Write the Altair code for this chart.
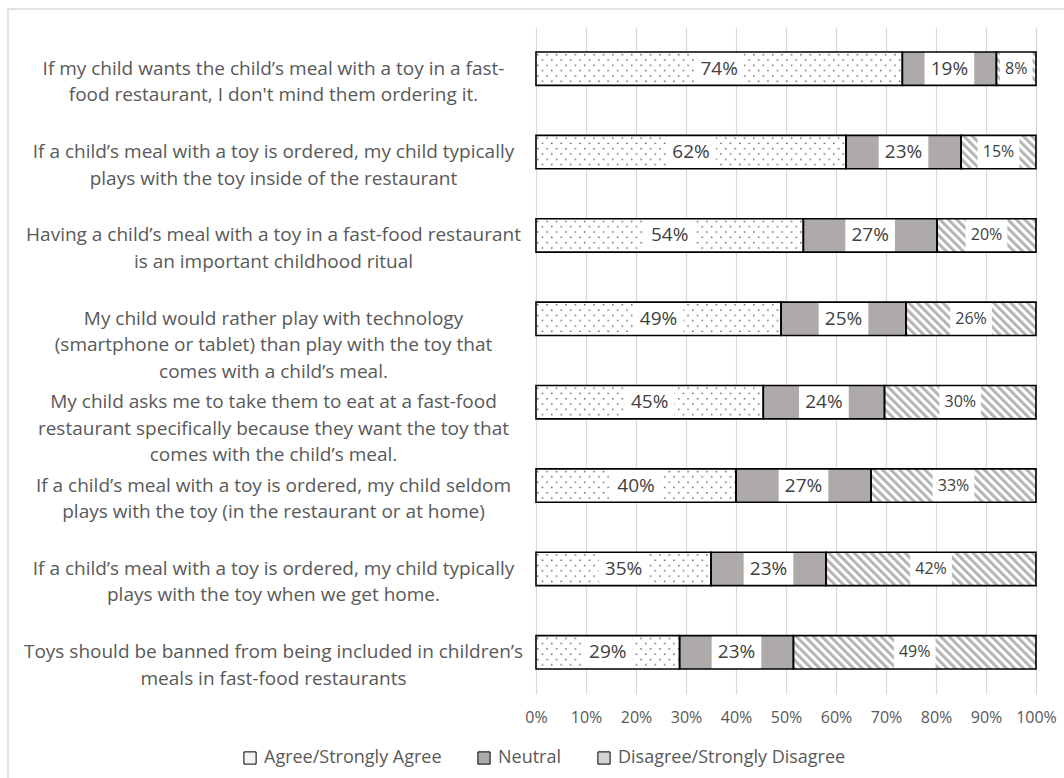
import urllib.parse

import altair as alt
import pandas as pd

# Survey statements (one bar each), top to bottom
items = [
    "If my child wants the child\u2019s meal with a toy in a fast-\nfood restaurant, I don't mind them ordering it.",
    "If a child\u2019s meal with a toy is ordered, my child typically\nplays with the toy inside of the restaurant",
    "Having a child\u2019s meal with a toy in a fast-food restaurant\nis an important childhood ritual",
    "My child would rather play with technology\n(smartphone or tablet) than play with the toy that\ncomes with a child\u2019s meal.",
    "My child asks me to take them to eat at a fast-food\nrestaurant specifically because they want the toy that\ncomes with the child\u2019s meal.",
    "If a child\u2019s meal with a toy is ordered, my child seldom\nplays with the toy (in the restaurant or at home)",
    "If a child\u2019s meal with a toy is ordered, my child typically\nplays with the toy when we get home.",
    "Toys should be banned from being included in children\u2019s\nmeals in fast-food restaurants",
]

# Response shares (%)
agree = [74, 62, 54, 49, 45, 40, 35, 29]
neutral = [19, 23, 27, 25, 24, 27, 23, 23]
disagree = [8, 15, 20, 26, 30, 33, 42, 49]

groups = ["Agree/Strongly Agree", "Neutral", "Disagree/Strongly Disagree"]
tick_values = list(range(0, 101, 10))

FONT = "Open Sans"
W, H = 500, 667
TEXT_GREY = "#595959"


def svg_fill(body):
    svg = ('<svg xmlns="http://www.w3.org/2000/svg" width="100%" height="100%">'
           + body + "</svg>")
    return "data:image/svg+xml;charset=utf-8," + urllib.parse.quote(svg)


# Tiled textures: sparse dots and light "\" hatching on white
DOTS = svg_fill(
    '<defs><pattern id="d" width="9.4" height="10.6" patternUnits="userSpaceOnUse">'
    '<rect x="1" y="2" width="1.4" height="1.4" fill="#555555"/>'
    '<rect x="5.7" y="7.3" width="1.4" height="1.4" fill="#555555"/>'
    "</pattern></defs>"
    '<rect width="100%" height="100%" fill="#ffffff"/>'
    '<rect width="100%" height="100%" fill="url(#d)"/>'
)
HATCH = svg_fill(
    '<defs><pattern id="h" width="6" height="6" patternUnits="userSpaceOnUse" '
    'patternTransform="rotate(-45)"><rect width="3" height="6" fill="#b4b4b4"/>'
    "</pattern></defs>"
    '<rect width="100%" height="100%" fill="#ffffff"/>'
    '<rect width="100%" height="100%" fill="url(#h)"/>'
)
textures = {groups[0]: DOTS, groups[1]: "", groups[2]: HATCH}

rows = []
for i, item in enumerate(items):
    vals = [agree[i], neutral[i], disagree[i]]
    total = sum(vals)
    cum = 0
    for g, v in zip(groups, vals):
        start = cum / total * 100
        cum += v
        end = cum / total * 100
        mid = (start + end) / 2
        fs = 16 if g == groups[2] else 19
        pad = 10 if g == groups[2] else 12
        box_px = fs * (0.572 * len(str(v)) + 0.84) + pad
        half = box_px / 2 * 100 / W
        rows.append(dict(
            item=item, group=g, value=v, label=f"{v}%",
            start=start, end=end, mid=mid,
            lo=max(start + 0.3, mid - half), hi=min(end - 0.3, mid + half),
            fs=fs, texture=textures[g],
        ))
df = pd.DataFrame(rows)

x_scale = alt.Scale(domain=[0, 100], nice=False, zero=True)
x_axis = alt.Axis(
    values=tick_values, labelExpr="datum.value + '%'", domain=False, ticks=False,
    tickSize=0, grid=True, gridColor="#d9d9d9", gridWidth=1.2, labelFont=FONT,
    labelFontSize=16, labelColor=TEXT_GREY, labelPadding=15, labelFlush=False,
    labelOverlap=False,
)
y_axis = alt.Axis(
    domain=False, ticks=False, tickSize=0, grid=False, labelAlign="center",
    labelBaseline="middle", labelPadding=263, labelLimit=1000, labelFont=FONT,
    labelFontSize=19, labelColor=TEXT_GREY, labelLineHeight=26.5,
    labelExpr="split(datum.label, '\\n')",
)
y_scale = alt.Scale(paddingInner=0.6, paddingOuter=0.3)


def xq(field):
    return alt.X(f"{field}:Q", scale=x_scale, axis=x_axis, title=None)


def yb():
    return alt.Y("item:N", sort=items, scale=y_scale, axis=y_axis, title=None)


base = alt.Chart(df)

fills = base.mark_bar().encode(
    x=xq("start"), x2="end", y=yb(),
    color=alt.Color(
        "group:N",
        scale=alt.Scale(domain=groups, range=["#f3f3f3", "#aeaaaa", "#d3d3d3"]),
        legend=alt.Legend(
            title=None, orient="none", legendX=-295, legendY=722,
            direction="horizontal", symbolType="square", symbolSize=150,
            symbolStrokeColor="#000000", symbolStrokeWidth=1, labelFont=FONT,
            labelFontSize=18, labelColor=TEXT_GREY, labelLimit=400,
            columnPadding=33, labelOffset=5,
        ),
    ),
)

patterns = base.transform_filter("datum.texture != ''").mark_image(aspect=False).encode(
    x=xq("start"), x2="end", y=yb(), url="texture:N",
)

label_boxes = base.mark_bar(color="#ffffff").encode(x=xq("lo"), x2="hi", y=yb())

outlines = base.mark_bar(fillOpacity=0, stroke="#000000", strokeWidth=1.6).encode(
    x=xq("start"), x2="end", y=yb(),
)

labels = base.mark_text(font=FONT, color="#404040").encode(
    x=xq("mid"), y=yb(), text="label:N", size=alt.Size("fs:Q", scale=None),
)

frame = alt.Chart(pd.DataFrame({"f": [0]})).mark_rect(
    filled=False, color="#d9d9d9", strokeWidth=1.3
).encode(
    x=alt.value(-528), x2=alt.value(700), y=alt.value(-18), y2=alt.value(800),
)

chart = alt.layer(frame, fills, patterns, label_boxes, outlines, labels).properties(
    width=W, height=H,
    autosize=alt.AutoSizeParams(type="none"),
    padding={"left": 536, "top": 27, "right": 28, "bottom": 84},
    background="#ffffff",
).configure_view(stroke="transparent")

chart.save("out.html", embed_options={"renderer": "svg", "actions": False})
